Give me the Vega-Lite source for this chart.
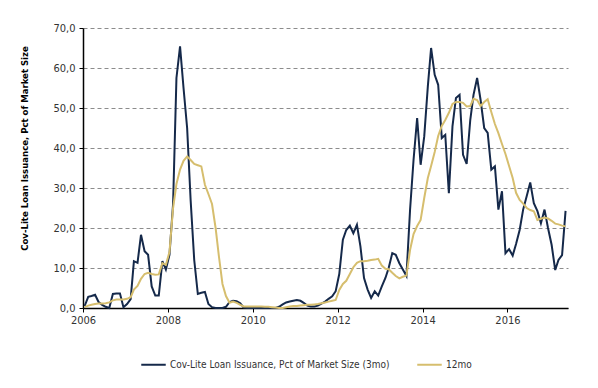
{
 "$schema": "https://vega.github.io/schema/vega-lite/v6.json",
 "width": 485, "height": 280,
 "autosize": {"type": "none"},
 "padding": {"left": 83, "top": 28, "right": 30, "bottom": 80},
 "background": "white",
 "config": {"view": {"stroke": null}, "font": "DejaVu Sans Condensed, Liberation Sans, sans-serif"},
 "data": {"values": [
{"d":"2006-01-15","a":0.5,"b":0.2},{"d":"2006-02-15","a":2.8,"b":0.6},{"d":"2006-03-15","a":3.0,"b":0.8},{"d":"2006-04-15","a":3.3,"b":1.0},{"d":"2006-05-15","a":1.5,"b":1.1},{"d":"2006-06-15","a":0.8,"b":1.1},{"d":"2006-07-15","a":0.3,"b":1.2},{"d":"2006-08-15","a":0.0,"b":1.4},{"d":"2006-09-15","a":3.5,"b":1.9},{"d":"2006-10-15","a":3.6,"b":2.1},{"d":"2006-11-15","a":3.6,"b":2.1},{"d":"2006-12-15","a":0.2,"b":2.1},
{"d":"2007-01-15","a":1.0,"b":2.3},{"d":"2007-02-15","a":2.2,"b":2.7},{"d":"2007-03-15","a":11.7,"b":4.6},{"d":"2007-04-15","a":11.3,"b":5.5},{"d":"2007-05-15","a":18.3,"b":7.3},{"d":"2007-06-15","a":14.2,"b":8.5},{"d":"2007-07-15","a":13.3,"b":8.8},{"d":"2007-08-15","a":5.4,"b":8.5},{"d":"2007-09-15","a":3.1,"b":8.3},{"d":"2007-10-15","a":3.1,"b":8.4},{"d":"2007-11-15","a":11.7,"b":11.2},{"d":"2007-12-15","a":9.6,"b":10.8},
{"d":"2008-01-15","a":13.3,"b":14.0},{"d":"2008-02-15","a":26.0,"b":25.0},{"d":"2008-03-15","a":57.5,"b":31.0},{"d":"2008-04-15","a":65.4,"b":34.6},{"d":"2008-05-15","a":55.0,"b":36.8},{"d":"2008-06-15","a":45.0,"b":37.9},{"d":"2008-07-15","a":27.0,"b":37.0},{"d":"2008-08-15","a":12.0,"b":36.0},{"d":"2008-09-15","a":3.5,"b":35.7},{"d":"2008-10-15","a":3.8,"b":35.4},{"d":"2008-11-15","a":4.0,"b":30.8},{"d":"2008-12-15","a":1.0,"b":28.5},
{"d":"2009-01-15","a":0.2,"b":26.0},{"d":"2009-02-15","a":0.0,"b":20.0},{"d":"2009-03-15","a":0.0,"b":13.0},{"d":"2009-04-15","a":0.0,"b":6.0},{"d":"2009-05-15","a":0.3,"b":3.0},{"d":"2009-06-15","a":1.5,"b":1.3},{"d":"2009-07-15","a":1.8,"b":1.6},{"d":"2009-08-15","a":1.7,"b":1.3},{"d":"2009-09-15","a":1.2,"b":0.8},{"d":"2009-10-15","a":0.1,"b":0.4},{"d":"2009-11-15","a":0.0,"b":0.4},{"d":"2009-12-15","a":0.0,"b":0.4},
{"d":"2010-01-15","a":0.0,"b":0.4},{"d":"2010-02-15","a":0.0,"b":0.4},{"d":"2010-03-15","a":0.0,"b":0.4},{"d":"2010-04-15","a":0.0,"b":0.3},{"d":"2010-05-15","a":0.0,"b":0.3},{"d":"2010-06-15","a":0.0,"b":0.2},{"d":"2010-07-15","a":0.0,"b":0.1},{"d":"2010-08-15","a":0.3,"b":0.0},{"d":"2010-09-15","a":0.9,"b":0.0},{"d":"2010-10-15","a":1.4,"b":0.2},{"d":"2010-11-15","a":1.6,"b":0.4},{"d":"2010-12-15","a":1.8,"b":0.5},
{"d":"2011-01-15","a":2.0,"b":0.5},{"d":"2011-02-15","a":1.8,"b":0.6},{"d":"2011-03-15","a":1.3,"b":0.7},{"d":"2011-04-15","a":0.6,"b":0.8},{"d":"2011-05-15","a":0.4,"b":0.8},{"d":"2011-06-15","a":0.4,"b":0.9},{"d":"2011-07-15","a":0.6,"b":1.0},{"d":"2011-08-15","a":1.1,"b":1.2},{"d":"2011-09-15","a":1.6,"b":1.4},{"d":"2011-10-15","a":2.3,"b":1.6},{"d":"2011-11-15","a":2.9,"b":1.8},{"d":"2011-12-15","a":4.2,"b":2.0},
{"d":"2012-01-15","a":8.5,"b":4.5},{"d":"2012-02-15","a":17.1,"b":6.0},{"d":"2012-03-15","a":19.5,"b":6.8},{"d":"2012-04-15","a":20.6,"b":8.5},{"d":"2012-05-15","a":18.7,"b":10.2},{"d":"2012-06-15","a":20.8,"b":11.3},{"d":"2012-07-15","a":15.4,"b":11.7},{"d":"2012-08-15","a":7.5,"b":11.7},{"d":"2012-09-15","a":4.6,"b":11.8},{"d":"2012-10-15","a":2.5,"b":12.0},{"d":"2012-11-15","a":4.2,"b":12.1},{"d":"2012-12-15","a":3.1,"b":12.3},
{"d":"2013-01-15","a":5.4,"b":10.6},{"d":"2013-02-15","a":7.5,"b":9.8},{"d":"2013-03-15","a":10.0,"b":9.7},{"d":"2013-04-15","a":13.7,"b":8.8},{"d":"2013-05-15","a":13.3,"b":8.0},{"d":"2013-06-15","a":11.2,"b":7.4},{"d":"2013-07-15","a":9.6,"b":7.8},{"d":"2013-08-15","a":8.0,"b":8.1},{"d":"2013-09-15","a":24.5,"b":14.5},{"d":"2013-10-15","a":37.0,"b":18.5},{"d":"2013-11-15","a":47.5,"b":20.5},{"d":"2013-12-15","a":35.8,"b":22.0},
{"d":"2014-01-15","a":42.9,"b":27.5},{"d":"2014-02-15","a":55.4,"b":32.5},{"d":"2014-03-15","a":65.0,"b":35.5},{"d":"2014-04-15","a":58.3,"b":39.0},{"d":"2014-05-15","a":55.8,"b":43.0},{"d":"2014-06-15","a":42.5,"b":45.5},{"d":"2014-07-15","a":43.3,"b":47.0},{"d":"2014-08-15","a":28.7,"b":48.8},{"d":"2014-09-15","a":45.4,"b":51.0},{"d":"2014-10-15","a":52.5,"b":51.5},{"d":"2014-11-15","a":53.3,"b":51.5},{"d":"2014-12-15","a":38.3,"b":51.3},
{"d":"2015-01-15","a":36.0,"b":50.4},{"d":"2015-02-15","a":47.0,"b":50.5},{"d":"2015-03-15","a":53.3,"b":52.3},{"d":"2015-04-15","a":57.5,"b":52.0},{"d":"2015-05-15","a":52.0,"b":50.5},{"d":"2015-06-15","a":45.0,"b":51.5},{"d":"2015-07-15","a":43.8,"b":52.2},{"d":"2015-08-15","a":34.6,"b":49.0},{"d":"2015-09-15","a":35.4,"b":46.0},{"d":"2015-10-15","a":24.6,"b":43.7},{"d":"2015-11-15","a":29.2,"b":41.0},{"d":"2015-12-15","a":13.7,"b":38.5},
{"d":"2016-01-15","a":14.7,"b":35.5},{"d":"2016-02-15","a":13.1,"b":32.5},{"d":"2016-03-15","a":16.0,"b":28.8},{"d":"2016-04-15","a":19.5,"b":27.0},{"d":"2016-05-15","a":24.6,"b":26.1},{"d":"2016-06-15","a":28.0,"b":25.0},{"d":"2016-07-15","a":31.4,"b":24.5},{"d":"2016-08-15","a":26.2,"b":24.2},{"d":"2016-09-15","a":24.2,"b":22.0},{"d":"2016-10-15","a":21.2,"b":22.3},{"d":"2016-11-15","a":24.6,"b":22.6},{"d":"2016-12-15","a":20.0,"b":22.4},
{"d":"2017-01-15","a":15.8,"b":21.8},{"d":"2017-02-15","a":9.5,"b":21.1},{"d":"2017-03-15","a":12.0,"b":20.9},{"d":"2017-04-15","a":13.2,"b":20.6},{"d":"2017-05-15","a":24.3,"b":20.4}
 ]},
 "transform": [{"fold": ["a", "b"], "as": ["s", "v"]}],
 "mark": {"type": "line", "strokeWidth": 2},
 "encoding": {
  "x": {
   "field": "d", "type": "temporal",
   "scale": {"domain": [{"year": 2006, "month": 1, "date": 1}, {"year": 2017, "month": 6, "date": 5}]},
   "axis": {
    "title": null,
    "values": [{"year": 2006}, {"year": 2008}, {"year": 2010}, {"year": 2012}, {"year": 2014}, {"year": 2016}],
    "format": "%Y", "grid": false, "labelFlush": false, "labelOverlap": false,
    "domainColor": "#000000", "domainWidth": 1.5,
    "tickColor": "#000000", "tickSize": 4,
    "labelFontSize": 11, "labelColor": "#333333", "labelPadding": 2
   }
  },
  "y": {
   "field": "v", "type": "quantitative",
   "scale": {"domain": [0, 70]},
   "axis": {
    "title": "Cov-Lite Loan Issuance,  Pct of Market Size",
    "titleFontWeight": "bold", "titleFontSize": 9.5, "titleColor": "#000000",
    "titleX": -54, "titleY": 120,
    "values": [0, 10, 20, 30, 40, 50, 60, 70],
    "labelExpr": "replace(format(datum.value, '.1f'), '.', ',')",
    "grid": true, "gridDash": [4, 3], "gridColor": "#8c8c8c", "gridWidth": 1,
    "domainColor": "#000000", "domainWidth": 1.5,
    "tickColor": "#000000", "tickSize": 4,
    "labelFontSize": 11, "labelColor": "#333333", "labelPadding": 4
   }
  },
  "color": {
   "field": "s", "type": "nominal",
   "scale": {"domain": ["a", "b"], "range": ["#15294a", "#d6be6e"]},
   "legend": {
    "title": null, "orient": "none", "legendX": 57, "legendY": 323,
    "direction": "horizontal",
    "symbolType": "stroke", "symbolStrokeWidth": 2, "symbolSize": 600,
    "labelFontSize": 10, "labelColor": "#333333", "labelLimit": 400,
    "labelOffset": 3,
    "columnPadding": 23,
    "labelExpr": "datum.value == 'a' ? 'Cov-Lite Loan Issuance, Pct of Market Size (3mo)' : '12mo'"
   }
  }
 }
}
